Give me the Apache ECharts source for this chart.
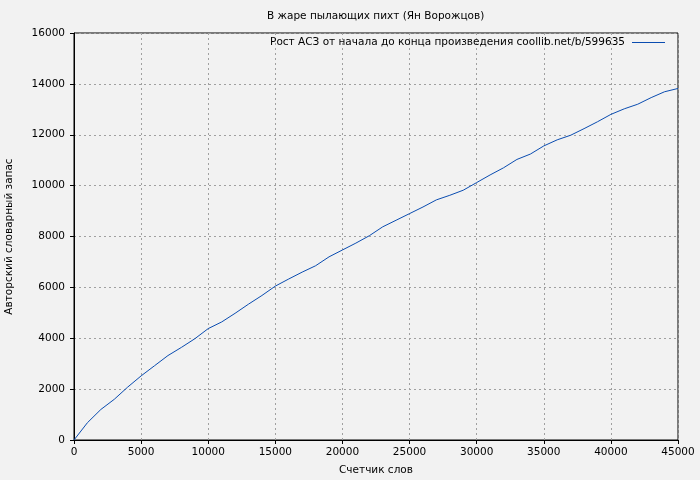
<!DOCTYPE html>
<html><head><meta charset="utf-8">
<script src="https://cdn.jsdelivr.net/npm/echarts@6/dist/echarts.min.js"></script>
<style>html,body{margin:0;padding:0;background:#f2f2f2}#c{width:700px;height:480px}</style>
</head><body><div id="c"></div>
<script>
const words = [0,1000,2000,3000,4000,5000,6000,7000,8000,9000,10000,11000,12000,13000,14000,15000,16000,17000,18000,19000,20000,21000,22000,23000,24000,25000,26000,27000,28000,29000,30000,31000,32000,33000,34000,35000,36000,37000,38000,39000,40000,41000,42000,43000,44000,45000];
const vocab = [0,680,1200,1600,2080,2520,2920,3320,3640,3980,4380,4640,4980,5340,5680,6050,6330,6600,6850,7200,7470,7740,8030,8380,8640,8900,9160,9440,9620,9820,10120,10420,10700,11030,11240,11560,11800,11980,12240,12510,12800,13020,13200,13460,13690,13820];
const titleText = 'В жаре пылающих пихт (Ян Ворожцов)';
const seriesName = 'Рост АСЗ от начала до конца произведения coollib.net/b/599635';
const xName = 'Счетчик слов';
const yName = 'Авторский словарный запас';

const font = 'DejaVu Sans';
const fs = 10.5;
const chart = echarts.init(document.getElementById('c'), null, {renderer:'canvas'});
const gridStyle = {show:true, lineStyle:{color:'#a0a0a0', type:[2,3], width:1}};
chart.setOption({
  backgroundColor:'#f2f2f2',
  animation:false,
  title:{text:titleText, left:267, top:11, padding:0, textStyle:{fontFamily:font, fontSize:fs, fontWeight:'normal', color:'#000'}},
  legend:{show:true, top:37, right:35, padding:0, itemWidth:33, itemHeight:1, align:'right', itemGap:0,
    icon:'rect', textStyle:{fontFamily:font, fontSize:fs, color:'#000', padding:[0,2,0,0]}, data:[seriesName]},
  grid:{left:74, right:22, top:33, bottom:40, outerBoundsMode:'none', containLabel:false, show:true, borderColor:'#000', borderWidth:1, backgroundColor:'transparent'},
  xAxis:{type:'value', min:0, max:45000, interval:5000, name:xName, nameLocation:'middle', nameGap:25,
    nameTextStyle:{fontFamily:font, fontSize:fs, color:'#000'},
    axisLine:{show:true, lineStyle:{color:'#000'}}, axisTick:{show:true, length:4, lineStyle:{color:'#000'}},
    axisLabel:{fontFamily:font, fontSize:fs, color:'#000', margin:7, formatter:v=>String(v)}, splitLine:gridStyle},
  yAxis:{type:'value', min:0, max:16000, interval:2000, name:yName, nameLocation:'middle', nameGap:59,
    nameTextStyle:{fontFamily:font, fontSize:fs, color:'#000'},
    axisLine:{show:true, lineStyle:{color:'#000'}}, axisTick:{show:true, length:4, lineStyle:{color:'#000'}},
    axisLabel:{fontFamily:font, fontSize:fs, color:'#000', margin:9, formatter:v=>String(v)}, splitLine:gridStyle},
  series:[{name:seriesName, type:'line', data:words.map((w,i)=>[w,vocab[i]]), showSymbol:false, symbol:'none',
    lineStyle:{color:'#0a4cb0', width:1}, itemStyle:{color:'#0a4cb0'}}]
});
</script></body></html>
